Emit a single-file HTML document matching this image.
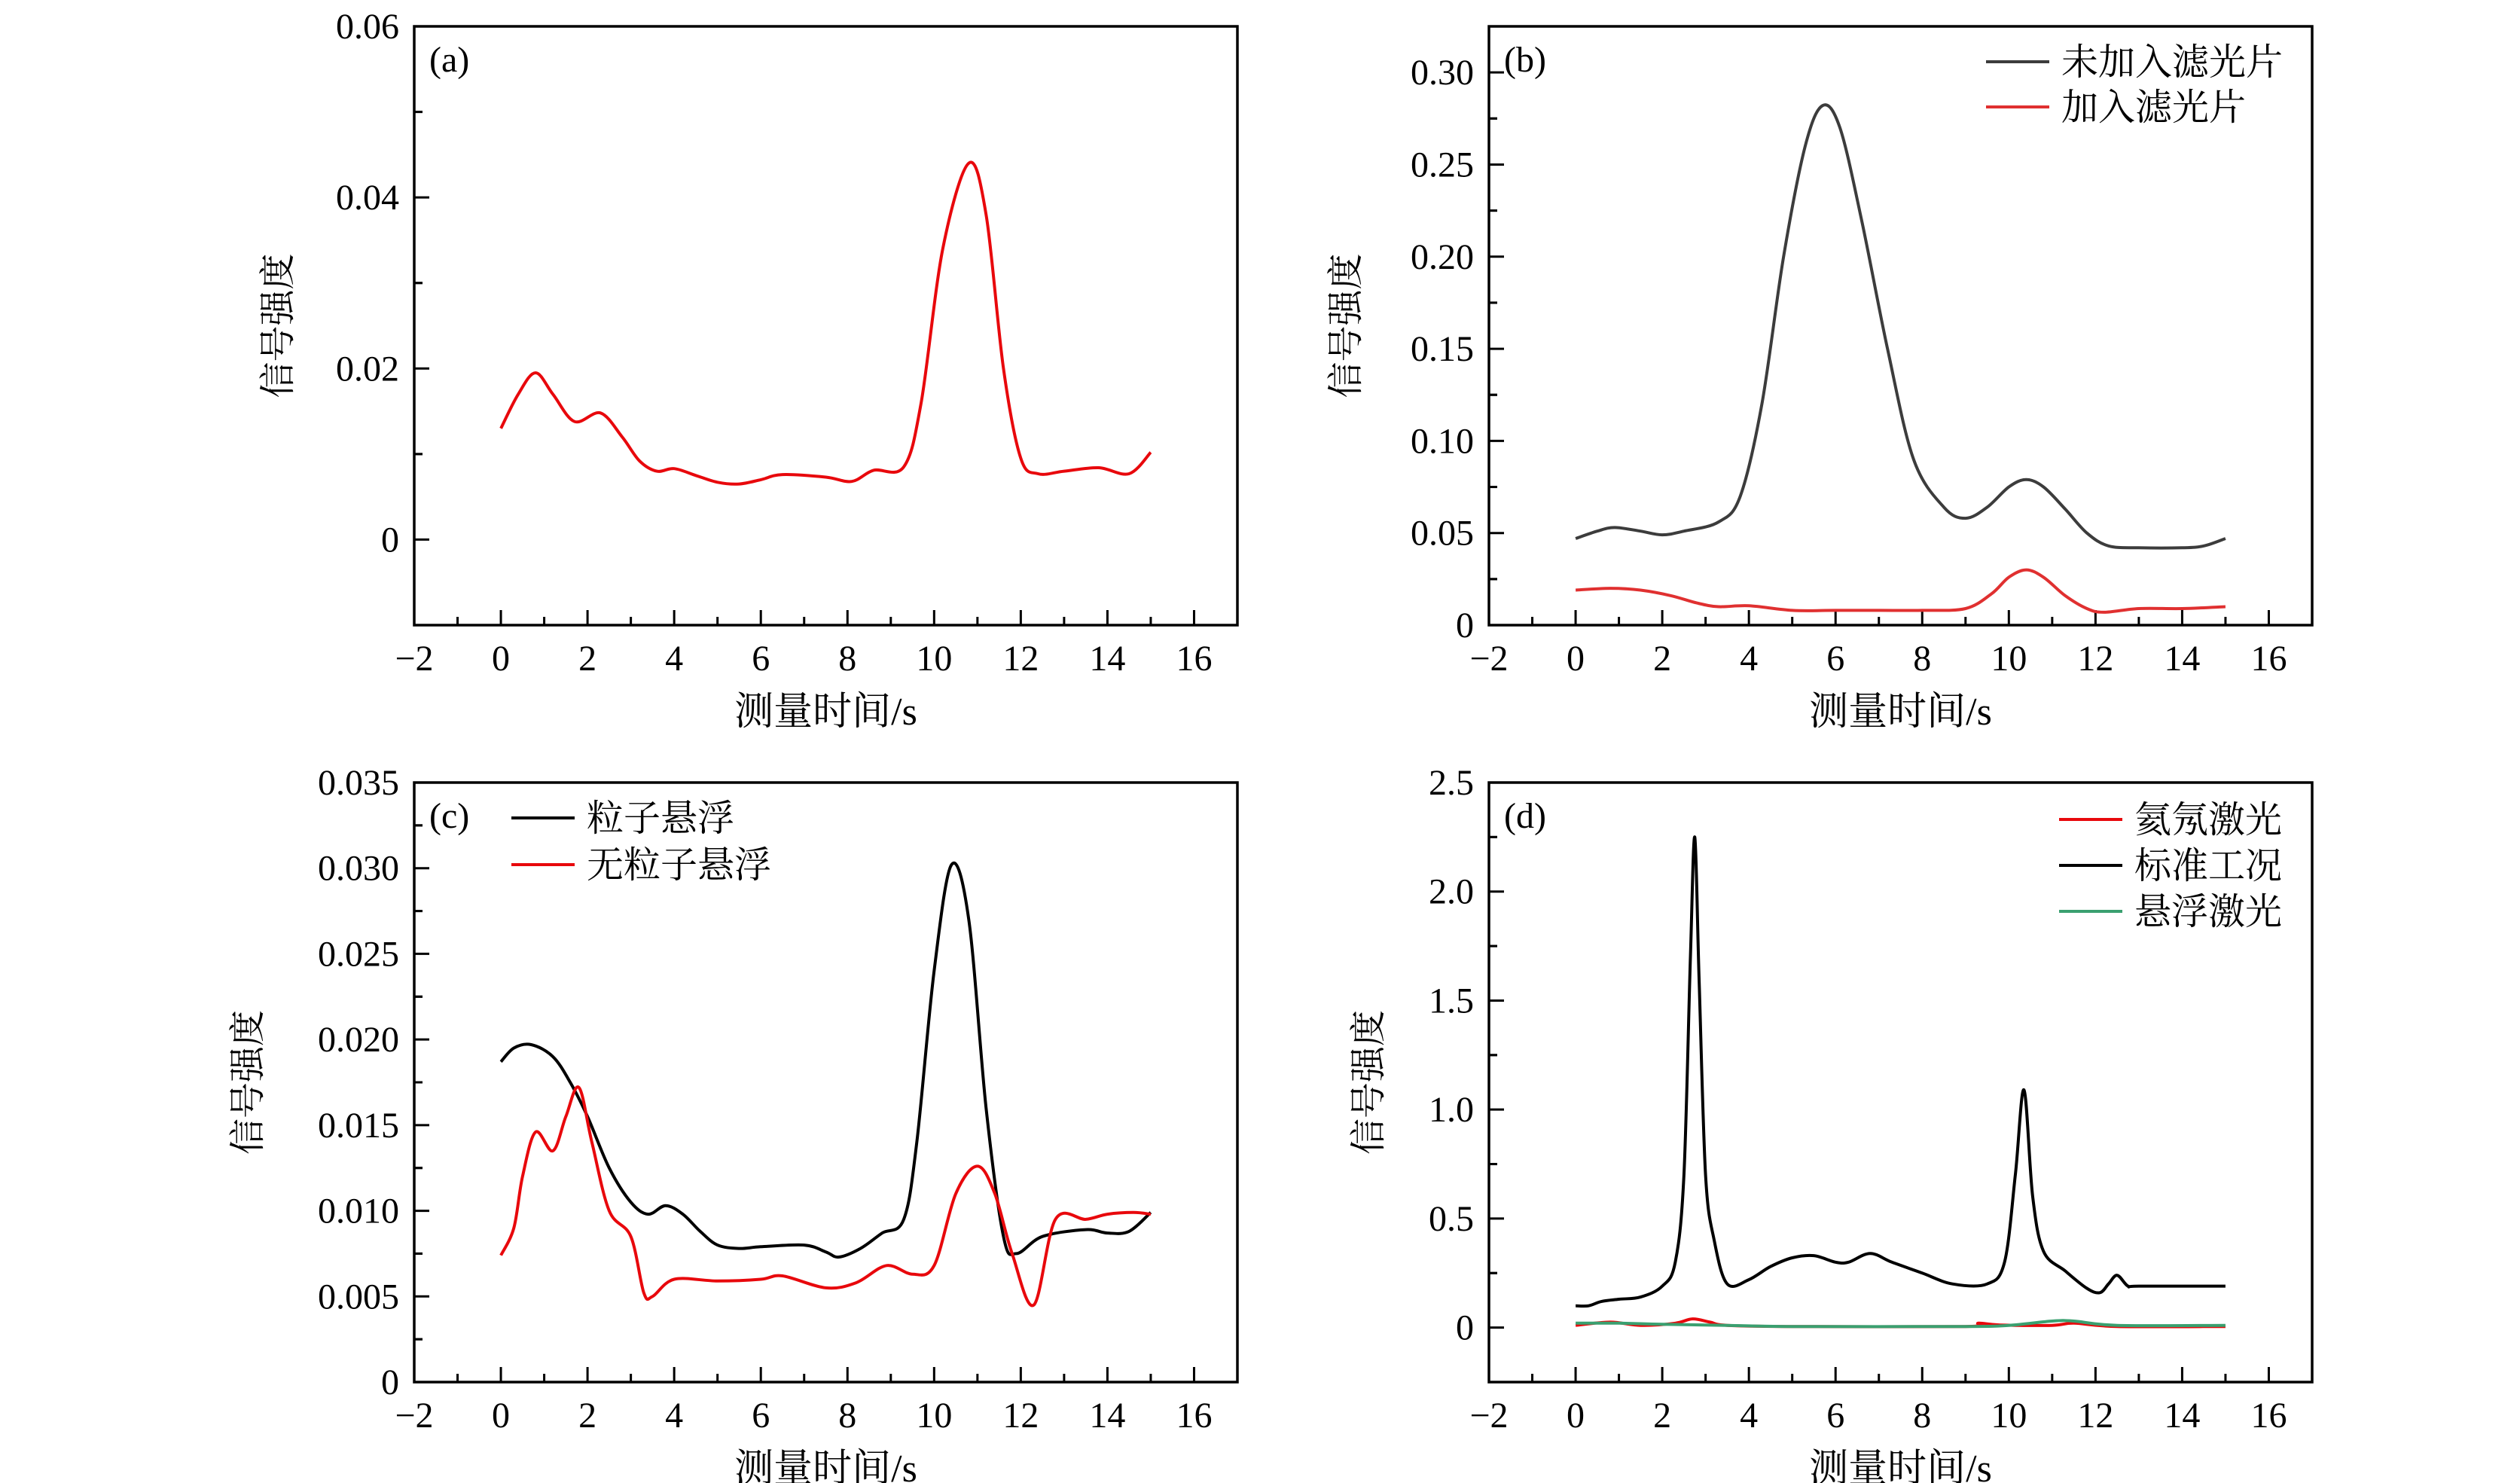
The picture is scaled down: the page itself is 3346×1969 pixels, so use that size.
<!DOCTYPE html>
<html><head><meta charset="utf-8">
<style>
html,body{margin:0;padding:0;background:#fff;}
svg{display:block;}
text{font-family:"Liberation Serif","Noto Serif CJK SC",serif;fill:#000;}
</style></head>
<body>
<svg id="chart" width="3346" height="1969" viewBox="0 0 3346 1969" xmlns="http://www.w3.org/2000/svg"></svg>
<script>
// ---- data ----
const xTicks = [-2,0,2,4,6,8,10,12,14,16];
const aTicks = [0,0.02,0.04,0.06];
const aTickLabels = ["0","0.02","0.04","0.06"];
const bTicks = [0,0.05,0.10,0.15,0.20,0.25,0.30];
const bTickLabels = ["0","0.05","0.10","0.15","0.20","0.25","0.30"];
const cTicks = [0,0.005,0.010,0.015,0.020,0.025,0.030,0.035];
const cTickLabels = ["0","0.005","0.010","0.015","0.020","0.025","0.030","0.035"];
const dTicks = [0,0.5,1.0,1.5,2.0,2.5];
const dTickLabels = ["0","0.5","1.0","1.5","2.0","2.5"];

const aX = [0,0.4,0.8,1.2,1.7,2.3,2.8,3.2,3.6,4.0,4.5,5.0,5.5,6.0,6.5,7.5,8.1,8.6,9.3,9.7,10.2,10.8,11.2,11.6,12.0,12.4,13,13.8,14.5,15];
const aY = [0.013,0.017,0.0195,0.017,0.0138,0.0148,0.012,0.0092,0.008,0.0083,0.0075,0.0067,0.0065,0.007,0.0076,0.0073,0.0068,0.0081,0.0085,0.016,0.034,0.044,0.038,0.02,0.0095,0.0077,0.0080,0.0084,0.0077,0.0102];

const bBlackX = [0,0.5,0.9,1.5,2.0,2.5,3.3,3.8,4.3,4.8,5.3,5.7,6.1,6.6,7.2,7.8,8.5,9.0,9.5,10.0,10.4,10.8,11.3,11.8,12.3,13,14,14.5,15];
const bBlackY = [0.047,0.051,0.053,0.051,0.049,0.051,0.056,0.07,0.12,0.2,0.26,0.282,0.27,0.22,0.15,0.09,0.064,0.058,0.064,0.075,0.079,0.075,0.063,0.05,0.043,0.042,0.042,0.043,0.047];
const bRedX = [0,0.8,1.5,2.2,2.8,3.3,4.0,5,6,7,8,9,9.6,10.0,10.4,10.8,11.3,11.8,12.2,13,14,15];
const bRedY = [0.019,0.020,0.019,0.016,0.012,0.010,0.0105,0.008,0.008,0.008,0.008,0.009,0.017,0.026,0.030,0.026,0.016,0.009,0.007,0.009,0.009,0.010];

const cBlackX = [0,0.3,0.7,1.2,1.6,2,2.5,3.0,3.4,3.8,4.2,4.6,5.0,5.5,6,7,7.5,7.8,8.3,8.8,9.3,9.6,10,10.4,10.8,11.2,11.6,11.9,12.5,13.5,14,14.5,15];
const cBlackY = [0.0187,0.0195,0.0197,0.019,0.0175,0.0155,0.0125,0.0105,0.0098,0.0103,0.0098,0.0088,0.008,0.0078,0.0079,0.008,0.0076,0.0073,0.0078,0.0087,0.0095,0.014,0.024,0.0302,0.027,0.016,0.0085,0.0075,0.0085,0.0089,0.0087,0.0088,0.0099];
const cRedX = [0,0.3,0.5,0.8,1.2,1.5,1.8,2.1,2.5,3.0,3.3,3.5,4.0,5,6,6.5,7.5,8.2,8.9,9.5,10,10.5,11,11.4,11.8,12.3,12.8,13.5,14,14.6,15];
const cRedY = [0.0074,0.009,0.012,0.0146,0.0135,0.0155,0.0172,0.014,0.01,0.0085,0.0052,0.0050,0.006,0.0059,0.006,0.0062,0.0055,0.0058,0.0068,0.0063,0.0068,0.011,0.0126,0.011,0.0075,0.0045,0.0095,0.0095,0.0098,0.0099,0.0098];

const dBlackX = [0,0.3,0.6,1.0,1.5,2.0,2.3,2.5,2.65,2.75,2.85,3.0,3.2,3.5,4,4.5,5.0,5.5,6.0,6.3,6.8,7.3,8,8.7,9.5,9.9,10.15,10.35,10.55,10.8,11.3,11.8,12.1,12.3,12.5,12.75,13,15];
const dBlackY = [0.1,0.1,0.12,0.13,0.14,0.19,0.3,0.7,1.7,2.25,1.6,0.7,0.4,0.2,0.22,0.28,0.32,0.33,0.3,0.3,0.34,0.3,0.25,0.2,0.2,0.3,0.7,1.09,0.6,0.35,0.26,0.18,0.16,0.2,0.24,0.19,0.19,0.19];
const dRedX = [0,0.8,1.5,2.3,2.7,3.1,3.5,5,9,9.3,9.8,11,11.5,12.5,15];
const dRedY = [0.01,0.025,0.01,0.02,0.04,0.025,0.01,0.005,0.005,0.02,0.012,0.01,0.02,0.005,0.005];
const dGreenX = [0,1,2,3.5,5,9,10,11,11.5,12.5,15];
const dGreenY = [0.02,0.02,0.015,0.01,0.005,0.005,0.01,0.03,0.03,0.01,0.01];

// ---- rendering ----
const svg = document.getElementById('chart');
const NS = 'http://www.w3.org/2000/svg';
function mk(tag, attrs, parent){ const e=document.createElementNS(NS,tag); for(const k in attrs) e.setAttribute(k,attrs[k]); (parent||svg).appendChild(e); return e; }

function smoothPath(pts){
  let d = 'M'+pts[0][0].toFixed(1)+','+pts[0][1].toFixed(1);
  for(let i=0;i<pts.length-1;i++){
    const p0=pts[i-1]||pts[i], p1=pts[i], p2=pts[i+1], p3=pts[i+2]||p2;
    const t=1/6;
    const c1=[p1[0]+(p2[0]-p0[0])*t, p1[1]+(p2[1]-p0[1])*t];
    const c2=[p2[0]-(p3[0]-p1[0])*t, p2[1]-(p3[1]-p1[1])*t];
    d+=' C'+c1[0].toFixed(1)+','+c1[1].toFixed(1)+' '+c2[0].toFixed(1)+','+c2[1].toFixed(1)+' '+p2[0].toFixed(1)+','+p2[1].toFixed(1);
  }
  return d;
}

function panel(cfg){
  const g = mk('g',{});
  
  
  const L=cfg.left,R=cfg.right,T=cfg.top,B=cfg.bottom;
  const sx = v => L + (v - (-2)) / (17 - (-2)) * (R - L);
  const sy = v => B - (v - cfg.ymin) / (cfg.ymax - cfg.ymin) * (B - T);
  xTicks.forEach((v)=>{
    const tk = mk('line',{x1:sx(v),x2:sx(v),y1:B,y2:B-20,stroke:'#000','stroke-width':3},g);
    
    
    const mt = mk('line',{x1:sx(v+1),x2:sx(v+1),y1:B,y2:B-11,stroke:'#000','stroke-width':3},g);
    
    
    const t = mk('text',{x:sx(v),y:B+60,'text-anchor':'middle','font-size':48},g);
    t.textContent = v<0 ? '\u2212'+Math.abs(v) : String(v);
    
    
  });
  const step = cfg.yticks[1]-cfg.yticks[0];
  cfg.yticks.forEach((v,i)=>{
    const tk = mk('line',{x1:L,x2:L+20,y1:sy(v),y2:sy(v),stroke:'#000','stroke-width':3},g);
    
    
    [v-step/2, v+step/2].forEach(m=>{
      if(m>cfg.ymin && m<cfg.ymax){
        const mt = mk('line',{x1:L,x2:L+11,y1:sy(m),y2:sy(m),stroke:'#000','stroke-width':3},g);
        
        
      }
    });
    const t = mk('text',{x:L-20,y:sy(v)+16,'text-anchor':'end','font-size':48},g);
    t.textContent = cfg.ylabels[i];
    
    
  });
  cfg.series.forEach(s=>{
    const pts = s.x.map((xv,i)=>[sx(xv), sy(s.y[i])]);
    const p = mk('path',{d:smoothPath(pts),fill:'none',stroke:s.color,'stroke-width':4,'stroke-linejoin':'round'},g);
    
    
  });
  const fr = mk('rect',{x:L,y:T,width:R-L,height:B-T,fill:'none',stroke:'#000','stroke-width':3.5},g);
  
  
  const pl = mk('text',{x:L+20,y:T+60,'font-size':48},g);
  pl.textContent = cfg.label;
  
  
  const xt = mk('text',{x:(L+R)/2,y:B+132,'text-anchor':'middle','font-size':52},g);
  xt.textContent = '测量时间/s';
  
  
  const yc = (T+B)/2;
  const yt = mk('text',{x:cfg.ytx,y:yc,'text-anchor':'middle','font-size':48,transform:'rotate(-90 '+cfg.ytx+' '+yc+')'},g);
  yt.textContent = '信号强度';
  
  
  if(cfg.legend){
    cfg.legend.items.forEach((it,i)=>{
      const y = cfg.legend.y + i*cfg.legend.dy;
      const ln = mk('line',{x1:cfg.legend.x,x2:cfg.legend.x+84,y1:y,y2:y,stroke:it.color,'stroke-width':4},g);
      
      
      const t = mk('text',{x:cfg.legend.x+100,y:y+17,'font-size':49},g);
      t.textContent = it.text;
      
      
    });
  }
}

panel({name:'panel-a',label:'(a)',left:550,right:1643,top:35,bottom:830,ymin:-0.01,ymax:0.06,
  yticks:aTicks,ylabels:aTickLabels,ytx:385,
  series:[{name:'series-a',x:aX,y:aY,color:'#e8080c'}]});
panel({name:'panel-b',label:'(b)',left:1977,right:3070,top:35,bottom:830,ymin:0,ymax:0.325,
  yticks:bTicks,ylabels:bTickLabels,ytx:1803,
  series:[{name:'series-no-filter',x:bBlackX,y:bBlackY,color:'#3c3c3c'},{name:'series-filter',x:bRedX,y:bRedY,color:'#e03030'}],
  legend:{x:2637,y:82,dy:60,items:[{text:'未加入滤光片',color:'#3c3c3c'},{text:'加入滤光片',color:'#e03030'}]}});
panel({name:'panel-c',label:'(c)',left:550,right:1643,top:1039,bottom:1835,ymin:0,ymax:0.035,
  yticks:cTicks,ylabels:cTickLabels,ytx:345,
  series:[{name:'series-particles',x:cBlackX,y:cBlackY,color:'#000'},{name:'series-no-particles',x:cRedX,y:cRedY,color:'#e8080c'}],
  legend:{x:679,y:1086,dy:62,items:[{text:'粒子悬浮',color:'#000'},{text:'无粒子悬浮',color:'#e8080c'}]}});
panel({name:'panel-d',label:'(d)',left:1977,right:3070,top:1039,bottom:1835,ymin:-0.25,ymax:2.5,
  yticks:dTicks,ylabels:dTickLabels,ytx:1833,
  series:[{name:'series-standard',x:dBlackX,y:dBlackY,color:'#000'},{name:'series-argon',x:dRedX,y:dRedY,color:'#e8080c'},{name:'series-suspended',x:dGreenX,y:dGreenY,color:'#3aa070'}],
  legend:{x:2734,y:1088,dy:61,items:[{text:'氦氖激光',color:'#e8080c'},{text:'标准工况',color:'#000'},{text:'悬浮激光',color:'#3aa070'}]}});
</script>
</body></html>
